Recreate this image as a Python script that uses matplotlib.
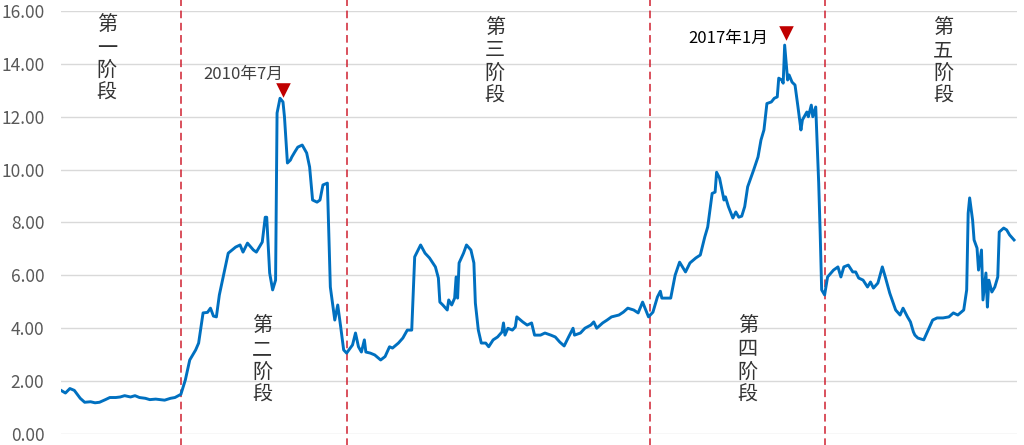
import numpy as np
import matplotlib
matplotlib.use("Agg")
import matplotlib.pyplot as plt

plt.rcParams['font.family'] = ['Noto Sans CJK SC', 'DejaVu Sans']

# ── data: weeks since start of series, and value ────────────────────────────
weeks = [
    0, 3, 6, 9, 13, 16, 20, 23, 26, 30, 33, 37, 40, 43, 47, 50, 53, 57, 60, 64,
    67, 70, 74, 77, 81,
    84, 87, 91, 93, 96, 99, 101, 103, 105, 107, 111, 113, 118, 121, 123, 126,
    130, 132, 136, 138, 139, 141, 143, 145, 146, 148, 150, 151, 153, 155, 156,
    158, 160, 163, 166, 168, 170, 173, 175, 177, 180, 182, 185, 187, 189, 191, 193,
    197, 199, 201, 203, 205, 206, 209, 212, 216, 219, 222, 224, 228, 231, 234,
    237, 239, 243, 246, 249, 253, 255, 256, 258, 261, 262, 264, 266, 267, 268,
    269, 272, 274, 277, 279, 280, 282, 284, 287, 289, 292, 295, 298, 299, 300,
    302, 305, 307, 308, 312, 315, 318, 320, 324, 327, 331, 334, 337, 340, 343,
    346, 347, 351, 354, 358, 360, 362, 366, 369, 372, 377, 380, 383, 387, 390,
    393, 397, 400, 403, 405, 406,
    412, 415, 418, 422, 425, 429, 432, 435, 437, 440, 442, 443, 445, 448, 449,
    451, 454, 456, 458, 460, 462, 464, 468, 471, 473, 475, 477, 480, 482, 484,
    485, 487, 488, 489, 491, 492, 494, 496, 498, 500, 501, 504, 505, 507, 508,
    510, 512, 513, 514, 516,
    518, 522, 525, 527, 529, 532, 535, 537, 539, 542, 545, 547, 549, 552, 555,
    557, 560, 564, 567, 569, 572, 574, 576, 577, 579, 583, 586, 589, 592, 596,
    600, 603, 606, 610, 612, 613, 614, 616, 617, 619, 620, 622, 623, 625, 626,
    627, 629, 631, 633, 634, 637, 639, 641, 644,
]
values = [
    1.65, 1.55, 1.72, 1.65, 1.35, 1.20, 1.22, 1.18, 1.20, 1.30, 1.38, 1.38, 1.40,
    1.45, 1.40, 1.45, 1.38, 1.35, 1.30, 1.32, 1.30, 1.28, 1.35, 1.38, 1.50,
    2.04, 2.80, 3.18, 3.44, 4.58, 4.60, 4.76, 4.46, 4.43, 5.26, 6.32, 6.84, 7.07,
    7.15, 6.88, 7.22, 6.96, 6.88, 7.26, 8.20, 8.20, 6.09, 5.45, 5.82, 12.14,
    12.70, 12.56, 12.00, 10.25, 10.36, 10.48, 10.67, 10.85, 10.93, 10.63, 10.10,
    8.85, 8.77, 8.85, 9.42, 9.49, 5.56, 4.31, 4.88, 4.05, 3.18, 3.06,
    3.37, 3.82, 3.30, 3.10, 3.56, 3.10, 3.06, 2.99, 2.80, 2.93, 3.30, 3.25, 3.44,
    3.63, 3.93, 3.93, 6.70, 7.15, 6.84, 6.66, 6.32, 5.90, 4.99, 4.88, 4.69, 5.07,
    4.88, 5.14, 5.94, 5.14, 6.47, 6.84, 7.15, 6.96, 6.47, 4.95, 3.93, 3.44, 3.44,
    3.30, 3.56, 3.67, 3.86, 4.20, 3.74, 4.00, 3.93, 4.05, 4.43, 4.24, 4.12, 4.20,
    3.74, 3.74, 3.82, 3.74, 3.67, 3.48, 3.33, 3.67, 4.00, 3.74, 3.82, 4.00, 4.12,
    4.24, 4.00, 4.20, 4.31, 4.43, 4.50, 4.61, 4.76, 4.69, 4.58, 4.99, 4.43, 4.61,
    5.18, 5.40, 5.14,
    5.14, 6.01, 6.50, 6.13, 6.47, 6.66, 6.77, 7.45, 7.83, 9.10, 9.15, 9.90, 9.68,
    8.85, 8.97, 8.60, 8.17, 8.40, 8.20, 8.24, 8.60, 9.35, 9.98, 10.48, 11.12,
    11.50, 12.50, 12.56, 12.70, 12.75, 13.46, 13.39, 13.27, 14.71, 13.39, 13.58,
    13.31, 13.20, 12.37, 11.50, 11.88, 12.18, 12.00, 12.44, 12.00, 12.37, 9.49,
    7.60, 5.45, 5.26,
    5.94, 6.20, 6.32, 5.94, 6.32, 6.39, 6.13, 6.13, 5.90, 5.82, 5.56, 5.75, 5.52,
    5.71, 6.32, 5.94, 5.33, 4.69, 4.50, 4.76, 4.43, 4.24, 3.86, 3.74, 3.63, 3.56,
    3.93, 4.31, 4.39, 4.39, 4.43, 4.58, 4.50, 4.69, 5.45, 8.35, 8.93, 8.09, 7.34,
    7.03, 6.20, 6.96, 5.07, 6.09, 4.80, 5.82, 5.37, 5.56, 5.94, 7.64, 7.79, 7.72,
    7.53, 7.34,
]

phase_breaks = [81, 193, 398, 516]
phase_labels = ["第\n一\n阶\n段", "第\n二\n阶\n段", "第\n三\n阶\n段",
                "第\n四\n阶\n段", "第\n五\n阶\n段"]
phase_label_x = [31, 136, 293, 464, 596]
phase_label_y = [15.85, 4.45, 15.75, 4.45, 15.75]

peak_labels = ["2010年7月", "2017年1月"]
peak_weeks = [150, 490]
peak_marker_y = [13.0, 15.15]
peak_label_x = [123, 451]
peak_label_y = [13.6, 14.95]

yticks = np.arange(0, 17, 2)

# ── plot ────────────────────────────────────────────────────────────────────
fig = plt.figure(figsize=(10.24, 4.45), dpi=100)
ax = fig.add_axes([61 / 1024, 11 / 445, (1017 - 61) / 1024, 423 / 445])

ax.set_ylim(0, 16)
ax.set_xlim(0, 646)
ax.set_yticks(yticks)
ax.set_yticklabels([f"{v:.2f}" for v in yticks])
ax.set_xticks([])
ax.tick_params(axis="y", length=0, pad=12, labelsize=12.5, labelcolor="#595959")
for spine in ax.spines.values():
    spine.set_visible(False)
for v in yticks:
    ax.axhline(v, color="#d9d9d9", linewidth=1.0, zorder=0)

ax.plot(weeks, values, color="#0070c0", linewidth=2.1, zorder=3,
        solid_joinstyle="round")

for b in phase_breaks:
    ax.axvline(b, ymin=-0.03, ymax=1.03, clip_on=False, color="#d02030",
               linewidth=1.1, linestyle=(0, (5, 3)), zorder=2)

for txt, x, y in zip(phase_labels, phase_label_x, phase_label_y):
    ax.text(x, y, txt, ha="center", va="top", fontsize=14.5,
            color="#333333", linespacing=1.1, fontweight="light")

ax.scatter(peak_weeks, peak_marker_y, marker="v", s=110, color="#c00000",
           zorder=5, linewidths=0)
ax.text(peak_label_x[0], peak_label_y[0], peak_labels[0], ha="center",
        va="center", fontsize=12, color="#404040")
ax.text(peak_label_x[1], peak_label_y[1], peak_labels[1], ha="center",
        va="center", fontsize=12, color="#000000")

fig.savefig("out.png", dpi=100, facecolor="white")
